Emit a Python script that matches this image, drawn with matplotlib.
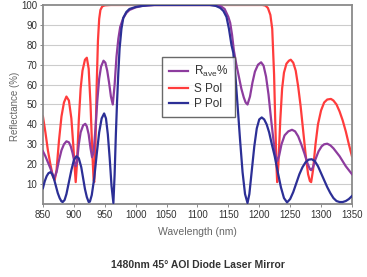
import matplotlib
matplotlib.use("Agg")
import matplotlib.pyplot as plt
from matplotlib import font_manager as fm

# ---------------- data ----------------
s_wl = [850, 854, 858, 862, 866, 869, 872, 876, 880, 884, 888, 892, 896, 899, 901, 903,
        905, 908, 911, 914, 918, 921, 924, 927, 930, 932, 933, 935, 937, 939, 941, 943,
        946, 950, 960, 1000, 1100, 1200, 1205, 1210, 1214, 1218, 1221, 1224, 1226, 1228,
        1229, 1231, 1234, 1237, 1240, 1244, 1248, 1251, 1255, 1259, 1263, 1267, 1271,
        1275, 1279, 1282, 1284, 1287, 1291, 1295, 1300, 1305, 1310, 1316, 1320, 1325,
        1330, 1335, 1340, 1345, 1350]
s_pol = [44, 36, 27, 20, 14, 12, 17, 32, 44, 51, 54, 52, 43, 30, 20, 11,
         20, 42, 58, 67, 72.5, 73.5, 68, 50, 25, 12, 11, 30, 60, 82, 93, 97.5,
         99.3, 99.8, 100, 100, 100, 100, 100, 99.7, 98.5, 95, 88, 65, 40, 18,
         11, 20, 42, 58, 66, 70.5, 72, 72.5, 71, 67, 59, 49, 37,
         25, 15, 11.5, 11, 17, 30, 40, 47, 51, 52.5, 52.8, 52, 50,
         46.5, 42, 36.5, 30, 24]

p_wl = [850, 853, 856, 859, 862, 865, 868, 871, 874, 877, 880, 882, 885, 888, 892, 896,
        900, 904, 908, 912, 915, 918, 921, 924, 926, 929, 933, 937, 941, 945, 949, 952,
        955, 958, 961, 964, 966, 968, 970, 972, 974, 977, 980, 985, 990, 1000, 1010,
        1020, 1030, 1100, 1120, 1130, 1137, 1142, 1147, 1151, 1155, 1158, 1162, 1166,
        1169, 1173, 1177, 1181, 1184, 1188, 1192, 1196, 1200, 1204, 1208, 1212, 1216,
        1220, 1225, 1230, 1235, 1240, 1245, 1250, 1255, 1260, 1265, 1270, 1275, 1280,
        1285, 1290, 1295, 1300, 1305, 1310, 1315, 1320, 1325, 1330, 1335, 1340, 1345, 1350]
p_pol = [8, 11.5, 14, 15.5, 16, 15, 12.5, 9, 5.5, 3, 1.3, 1, 2, 5, 11, 17,
         22, 24, 23, 18.5, 13, 7.5, 3.5, 1, 1.2, 4.5, 13, 25, 36, 43, 45.5, 43,
         35, 23, 9, 0.5, 15, 35, 52, 66, 78, 88, 93.5, 96.5, 98, 99, 99.5,
         99.8, 100, 100, 100, 99.5, 98.5, 97, 94, 88, 80, 76, 62, 45,
         32, 16, 5, 0.5, 5, 17, 29, 38, 42.5, 43.5, 42.5, 40, 36,
         30.5, 24, 16, 8.5, 3, 0.8, 2.5, 6, 10.5, 15, 18.5, 21, 22.3,
         22.5, 21.5, 19, 15.5, 12, 8.5, 5.5, 3, 1.5, 1, 1, 1.5, 2.5, 4]

r_wl = [850, 854, 858, 862, 866, 869, 872, 876, 880, 884, 888, 892, 895, 898, 901, 903,
        905, 908, 911, 915, 918.5, 921, 924, 927, 929.5, 932, 935, 938, 941, 944, 948,
        951, 954, 957, 960, 963, 966, 969, 972, 975, 980, 985, 990, 1000, 1010, 1020,
        1030, 1100, 1130, 1138, 1144, 1150, 1153, 1156, 1159, 1163, 1167, 1171, 1175,
        1178, 1181, 1185, 1189, 1193, 1198, 1203, 1207, 1211, 1215, 1219, 1223, 1226,
        1229, 1232, 1236, 1241, 1247, 1253, 1258, 1263, 1268, 1273, 1278, 1282, 1284,
        1287, 1291, 1296, 1301, 1305, 1310, 1315, 1320, 1325, 1330, 1335, 1340, 1345, 1350]
r_ave = [26.5, 24, 21, 18, 14.5, 13.5, 16, 22, 27, 30, 31.5, 31, 29, 25.5, 21, 19,
         21, 30, 36, 39.5, 40.3, 39, 35, 28, 23.5, 26, 38, 52, 63, 69, 72,
         71, 67, 61, 54, 50, 60, 74, 83, 89, 93.5, 96, 97.5, 98.8, 99.5, 99.8,
         100, 100, 100, 99.3, 98, 94, 91, 85, 77, 70, 64, 58, 53.5,
         51, 50, 54, 61, 66.5, 70, 71.2, 69.5, 64, 55, 43, 32, 25,
         21.5, 24, 30, 34.5, 36.5, 37.3, 36.5, 34, 30, 25.5, 20.5, 17.5, 17,
         18.5, 22.5, 26.5, 29, 30, 30.3, 29.5, 28, 26, 24, 21.5, 19, 17, 15]

x_ticks = [850, 900, 950, 1000, 1050, 1100, 1150, 1200, 1250, 1300, 1350]
y_ticks = [10, 20, 30, 40, 50, 60, 70, 80, 90, 100]
legend_labels = [r'R$_{\mathregular{ave}}$%', 'S Pol', 'P Pol']
title_text = '1480nm 45\u00b0 AOI Diode Laser Mirror'

# ---------------- fonts ----------------
names = {f.name for f in fm.fontManager.ttflist}
narrow = 'Liberation Sans Narrow' if 'Liberation Sans Narrow' in names else 'Liberation Sans'
plt.rcParams['font.family'] = ['Liberation Sans', 'DejaVu Sans']
plt.rcParams['mathtext.fontset'] = 'custom'
plt.rcParams['mathtext.rm'] = 'Liberation Sans'

# ---------------- figure ----------------
fig = plt.figure(figsize=(3.67, 2.77), dpi=100)
ax = fig.add_axes([0.117, 0.2635, 0.842, 0.7185])

c_r = '#8d3c9e'
c_s = '#ff3c3c'
c_p = '#2c2f96'
lw = 1.6
l1, = ax.plot(r_wl, r_ave, color=c_r, lw=lw, zorder=3)
l2, = ax.plot(s_wl, s_pol, color=c_s, lw=lw, zorder=2)
l3, = ax.plot(p_wl, p_pol, color=c_p, lw=lw, zorder=4)

ax.set_xlim(850, 1350)
ax.set_ylim(0, 100)
ax.set_xticks(x_ticks)
ax.set_yticks(y_ticks)
ax.set_xticklabels([str(v) for v in x_ticks], family=narrow, fontsize=7, color='#333333')
ax.set_yticklabels([str(v) for v in y_ticks], family=narrow, fontsize=7, color='#333333')
ax.tick_params(axis='both', length=2, width=0.6, color='#777777', pad=2)

for yv in y_ticks[:-1]:
    ax.axhline(yv, color='#cccccc', lw=0.8, zorder=0)

for sp in ax.spines.values():
    sp.set_color('#8a8a8a')
    sp.set_linewidth(1.3)

ax.set_xlabel('Wavelength (nm)', family=narrow, fontsize=7.5, color='#666666', labelpad=5)
ax.set_ylabel('Reflectance (%)', family=narrow, fontsize=7, color='#666666')
ax.yaxis.set_label_coords(-0.075, 0.49)

leg = ax.legend([l1, l2, l3], legend_labels, loc='upper left',
                bbox_to_anchor=(0.385, 0.738), fontsize=8.5, frameon=True,
                fancybox=False, handlelength=1.6, handletextpad=0.5,
                borderpad=0.6, labelspacing=0.3, borderaxespad=0)
leg.get_frame().set_edgecolor('#444444')
leg.get_frame().set_linewidth(1.0)
for t in leg.get_texts():
    t.set_color('#333333')

fig.text(0.54, 0.045, title_text, ha='center', va='center', fontsize=7.5,
         fontweight='bold', color='#333333')

fig.savefig('out.png', dpi=100)
